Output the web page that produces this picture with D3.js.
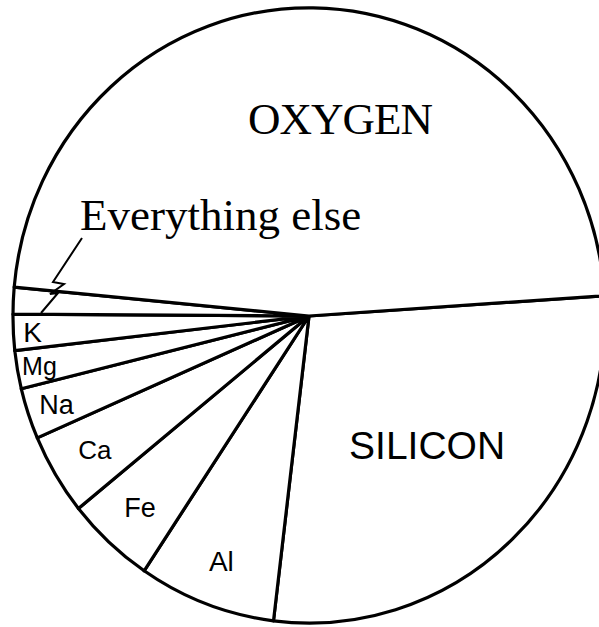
<!DOCTYPE html>
<html>
<head>
<meta charset="utf-8">
<script src="https://cdn.jsdelivr.net/npm/d3@7"></script>
<style>
  body { margin: 0; background: #fff; }
  svg { display: block; }
</style>
</head>
<body>
<svg id="svg" width="599" height="627"></svg>
<script>
// data: share of the crust, in the order drawn (clockwise from the right)
var elements = ["SILICON", "Al", "Fe", "Ca", "Na", "Mg", "K", "Everything else", "OXYGEN"];
var percents = [28.0, 7.5, 4.8, 4.3, 2.7, 2.0, 1.9, 1.4, 47.5];
var sliceLabels = ["SILICON", "Al", "Fe", "Ca", "Na", "Mg", "K", "", ""];

// label placement (fraction of radius) and font size per slice
var labelRadius = [0.58, 0.85, 0.845, 0.845, 0.9, 0.925, 0.935, 0, 0];
var labelSize = [39, 28, 27, 26, 27, 25, 28, 0, 0];

var svg = d3.select("#svg");

var cx = 309, cy = 316, rx = 296, ry = 307;
var startDeg = 86.2;

var pie = d3.pie()
    .sort(null)
    .value(function(d) { return d; })
    .startAngle(startDeg * Math.PI / 180)
    .endAngle(startDeg * Math.PI / 180 + 2 * Math.PI);

var arcs = pie(percents);
var arc = d3.arc().innerRadius(0).outerRadius(1);

// unit pie stretched a little into the scanned ellipse
var g = svg.append("g")
    .attr("transform", "translate(" + cx + "," + cy + ") scale(" + rx + "," + ry + ")");

g.selectAll("path.slice")
    .data(arcs)
    .enter().append("path")
    .attr("class", "slice")
    .attr("d", arc)
    .attr("fill", "#fff")
    .attr("stroke", "#000")
    .attr("stroke-width", 3.2)
    .attr("stroke-linejoin", "round")
    .attr("vector-effect", "non-scaling-stroke");

/* slice labels */
svg.selectAll("text.lbl")
    .data(arcs)
    .enter().append("text")
    .attr("class", "lbl")
    .filter(function(d, i) { return sliceLabels[i] !== ""; })
    .attr("x", function(d) {
        var i = d.index, a = (d.startAngle + d.endAngle) / 2;
        return cx + Math.sin(a) * labelRadius[i] * rx;
    })
    .attr("y", function(d) {
        var i = d.index, a = (d.startAngle + d.endAngle) / 2;
        return cy - Math.cos(a) * labelRadius[i] * ry;
    })
    .attr("dy", "0.36em")
    .attr("text-anchor", "middle")
    .attr("font-family", "'Liberation Sans', Arial, sans-serif")
    .attr("font-size", function(d) { return labelSize[d.index]; })
    .text(function(d) { return sliceLabels[d.index]; });

// big serif annotations
svg.append("text")
    .attr("x", 340).attr("y", 134)
    .attr("text-anchor", "middle")
    .attr("font-family", "'Liberation Serif', 'Times New Roman', serif")
    .attr("font-size", 45)
    .attr("letter-spacing", -1)
    .text(elements[8]);

svg.append("text")
    .attr("x", 80).attr("y", 230)
    .attr("font-family", "'Liberation Serif', 'Times New Roman', serif")
    .attr("font-size", 45)
    .text(elements[7]);

// zigzag pointer to the thin slice
svg.append("path")
    .attr("d", "M82,238 L53,282 L64,284 L50,294 L58,293 L41,313")
    .attr("fill", "none")
    .attr("stroke", "#000")
    .attr("stroke-width", 2);
</script>
</body>
</html>
